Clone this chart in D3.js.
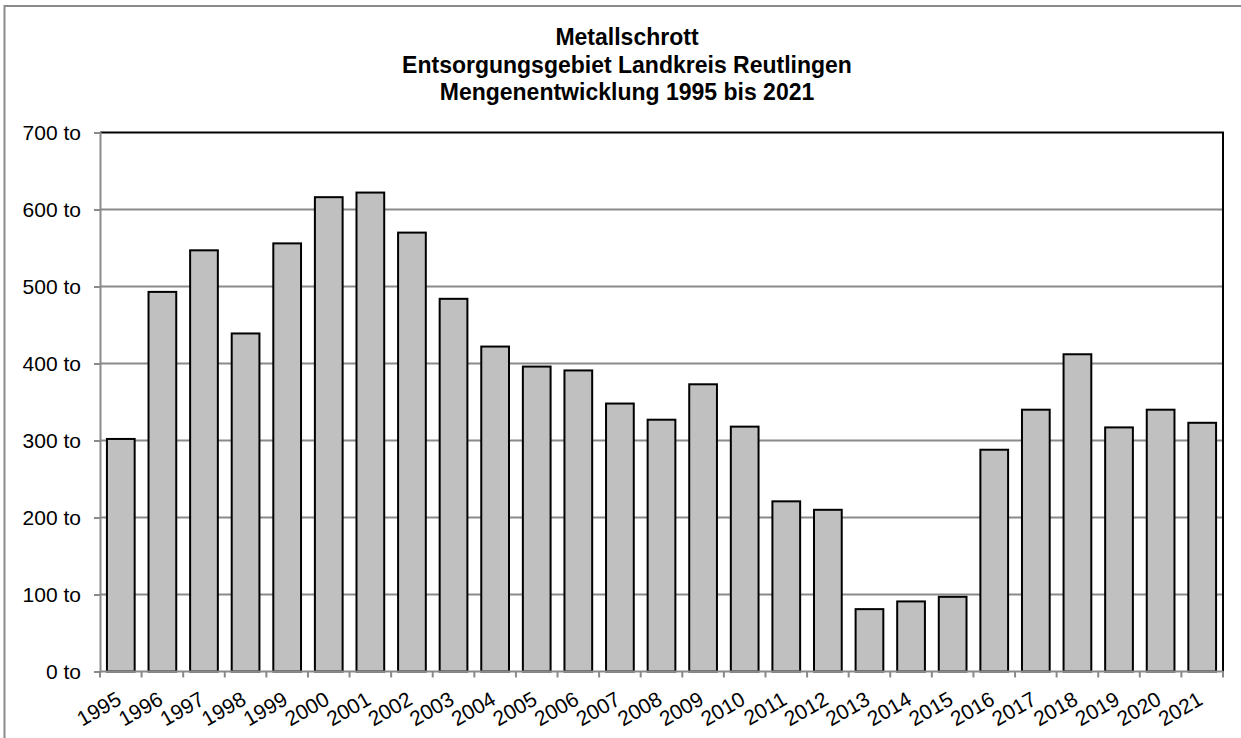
<!DOCTYPE html>
<html>
<head>
<meta charset="utf-8">
<script src="https://cdn.jsdelivr.net/npm/d3@7"></script>
<style>
  html, body { margin: 0; padding: 0; background: #fff; }
  svg { display: block; }
  text { font-family: "Liberation Sans", Arial, sans-serif; fill: #000; }
</style>
</head>
<body>
<svg id="chart" width="1241" height="738"></svg>
<script>
// Jahresmengen Metallschrott (Tonnen)
const years = ["1995","1996","1997","1998","1999","2000","2001","2002","2003","2004",
               "2005","2006","2007","2008","2009","2010","2011","2012","2013","2014",
               "2015","2016","2017","2018","2019","2020","2021"];
const tonnes = [302, 493, 547, 439, 556, 616, 622, 570, 484, 422,
                396, 391, 348, 327, 373, 318, 221, 210, 81, 91,
                97, 288, 340, 412, 317, 340, 323];
const yTicks = [0, 100, 200, 300, 400, 500, 600, 700];
const titleLines = ["Metallschrott",
                    "Entsorgungsgebiet Landkreis Reutlingen",
                    "Mengenentwicklung 1995 bis 2021"];

const svg = d3.select("#chart");
const plot = { left: 100, right: 1223, top: 132.5, bottom: 671.5 };

// Rahmen des Diagrammbereichs
svg.append("rect")
  .attr("x", 4.5).attr("y", 6).attr("width", 1260).attr("height", 800)
  .attr("fill", "none").attr("stroke", "#8a8a8a").attr("stroke-width", 2);

// Titel
svg.append("g").selectAll("text")
  .data(titleLines).join("text")
  .attr("x", 627)
  .attr("y", (d, i) => 45 + i * 27.5)
  .attr("text-anchor", "middle")
  .attr("font-size", 23)
  .attr("font-weight", "bold")
  .text(d => d);

const x = d3.scaleBand()
  .domain(years)
  .range([plot.left, plot.right])
  .paddingInner(1 / 3)
  .paddingOuter(1 / 6);

const y = d3.scaleLinear()
  .domain([0, 700])
  .range([plot.bottom, plot.top]);

// Gitterlinien
svg.append("g").selectAll("line")
  .data(yTicks.filter(t => t > 0 && t < 700)).join("line")
  .attr("x1", plot.left).attr("x2", plot.right)
  .attr("y1", d => y(d)).attr("y2", d => y(d))
  .attr("stroke", "#8a8a8a").attr("stroke-width", 2);

// Säulen
svg.append("g").selectAll("rect")
  .data(years.map((yr, i) => ({ yr, v: tonnes[i] }))).join("rect")
  .attr("x", d => x(d.yr))
  .attr("y", d => y(d.v))
  .attr("width", x.bandwidth())
  .attr("height", d => y(0) - y(d.v))
  .attr("fill", "#c0c0c0")
  .attr("stroke", "#000")
  .attr("stroke-width", 2);

// Obere und rechte Begrenzung
svg.append("path")
  .attr("d", `M${plot.left},${plot.top}H${plot.right}V${plot.bottom}`)
  .attr("fill", "none").attr("stroke", "#000").attr("stroke-width", 2);

// Y-Achse
const yAxis = d3.axisLeft(y)
  .tickValues(yTicks)
  .tickSize(6)
  .tickPadding(13)
  .tickFormat(d => d + " to");
const gy = svg.append("g")
  .attr("transform", `translate(${plot.left},0)`)
  .call(yAxis);
gy.select(".domain").attr("stroke", "#8a8a8a").attr("stroke-width", 2);
gy.selectAll(".tick line").attr("stroke", "#8a8a8a").attr("stroke-width", 2);
gy.selectAll(".tick text")
  .attr("font-size", 21)
  .attr("fill", "#000");

// X-Achse: Teilstriche an den Kategoriegrenzen
const boundaries = d3.range(years.length + 1).map(i => plot.left + i * x.step());
const gx = svg.append("g");
gx.append("line")
  .attr("x1", plot.left).attr("x2", plot.right)
  .attr("y1", plot.bottom).attr("y2", plot.bottom)
  .attr("stroke", "#8a8a8a").attr("stroke-width", 2);
gx.selectAll("line.tk")
  .data(boundaries).join("line").attr("class", "tk")
  .attr("x1", d => d).attr("x2", d => d)
  .attr("y1", plot.bottom).attr("y2", plot.bottom + 6)
  .attr("stroke", "#8a8a8a").attr("stroke-width", 2);

gx.selectAll("text")
  .data(years).join("text")
  .attr("transform", d => `translate(${x(d) + x.bandwidth() / 2 + 2},${plot.bottom + 32}) rotate(-30)`)
  .attr("text-anchor", "end")
  .attr("font-size", 21)
  .text(d => d);
</script>
</body>
</html>
